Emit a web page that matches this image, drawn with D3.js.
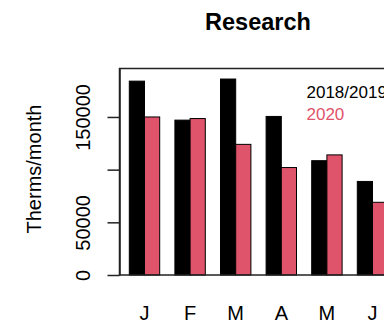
<!DOCTYPE html>
<html>
<head>
<meta charset="utf-8">
<script src="https://cdn.jsdelivr.net/npm/d3@7/dist/d3.min.js"></script>
<style>
  html, body { margin: 0; padding: 0; background: #fff; }
  svg { display: block; font-family: "Liberation Sans", Arial, Helvetica, sans-serif; }
</style>
</head>
<body>
<svg id="chart" width="384" height="325"></svg>
<script>
// Monthly therm usage for the Research building
const months = ["J", "F", "M", "A", "M", "J"];
const monthKeys = ["Jan", "Feb", "Mar", "Apr", "May", "Jun"];
const series = ["2018/2019", "2020"];
const values2018_2019 = [184000, 147000, 186000, 150500, 108500, 88800];
const values2020 = [150000, 148500, 124000, 102000, 114000, 69000];
const yTicks = [0, 50000, 100000, 150000];
const yTickLabels = ["0", "50000", "", "150000"];
const colors = ["#000000", "#DF536B"];

const svg = d3.select("#chart");

const plot = { left: 119.5, top: 68.5, bottom: 275, right: 398 };

const x = d3.scaleBand()
  .domain(monthKeys)
  .range([129.3, 387.7])
  .paddingInner(1 / 3)
  .paddingOuter(0);

const xSub = d3.scaleBand()
  .domain(series)
  .range([0, x.bandwidth()]);

const y = d3.scaleLinear()
  .domain([0, 196000])
  .range([plot.bottom, plot.top]);

const rows = monthKeys.map((m, i) => ({
  month: m,
  vals: [
    { s: series[0], v: values2018_2019[i], c: colors[0] },
    { s: series[1], v: values2020[i], c: colors[1] }
  ]
}));

// bars
const g = svg.append("g");
g.selectAll("g.grp")
  .data(rows)
  .join("g")
  .attr("class", "grp")
  .attr("transform", d => `translate(${x(d.month)},0)`)
  .selectAll("rect")
  .data(d => d.vals)
  .join("rect")
  .attr("x", d => xSub(d.s))
  .attr("y", d => y(d.v))
  .attr("width", xSub.bandwidth())
  .attr("height", d => y(0) - y(d.v))
  .attr("fill", d => d.c)
  .attr("stroke", "#000")
  .attr("stroke-width", 1);

// frame around the plot region
svg.append("rect")
  .attr("x", plot.left)
  .attr("y", plot.top)
  .attr("width", plot.right - plot.left)
  .attr("height", plot.bottom - plot.top)
  .attr("fill", "none")
  .attr("stroke", "#222")
  .attr("stroke-width", 1.5);

// y axis
const yAxis = d3.axisLeft(y)
  .tickValues(yTicks)
  .tickFormat((d, i) => yTickLabels[i])
  .tickSize(12)
  .tickSizeOuter(0);

const ya = svg.append("g")
  .attr("transform", `translate(${plot.left},0)`)
  .call(yAxis);
ya.select(".domain").attr("stroke", "#222").attr("stroke-width", 1.5);
ya.selectAll(".tick line").attr("stroke", "#222").attr("stroke-width", 1.5);
ya.selectAll(".tick text")
  .attr("font-size", 20)
  .attr("fill", "#000")
  .attr("text-anchor", "middle")
  .attr("dy", null)
  .attr("x", null)
  .attr("transform", "translate(-29,0) rotate(-90)")
  .attr("y", -0.5);

// x labels
svg.append("g")
  .selectAll("text")
  .data(rows)
  .join("text")
  .attr("x", (d, i) => x(d.month) + x.bandwidth() / 2)
  .attr("y", 320)
  .attr("text-anchor", "middle")
  .attr("font-size", 20)
  .attr("fill", "#000")
  .text((d, i) => months[i]);

// y axis title
svg.append("text")
  .attr("transform", "translate(41,169) rotate(-90)")
  .attr("text-anchor", "middle")
  .attr("font-size", 20)
  .attr("fill", "#000")
  .text("Therms/month");

// chart title
svg.append("text")
  .attr("x", 258)
  .attr("y", 30)
  .attr("text-anchor", "middle")
  .attr("font-size", 23.5)
  .attr("font-weight", "bold")
  .attr("fill", "#000")
  .text("Research");

// legend
svg.append("g")
  .selectAll("text")
  .data(series)
  .join("text")
  .attr("x", 306.5)
  .attr("y", (d, i) => 98.3 + i * 21.7)
  .attr("font-size", 17)
  .attr("fill", (d, i) => colors[i])
  .text(d => d);
</script>
</body>
</html>
